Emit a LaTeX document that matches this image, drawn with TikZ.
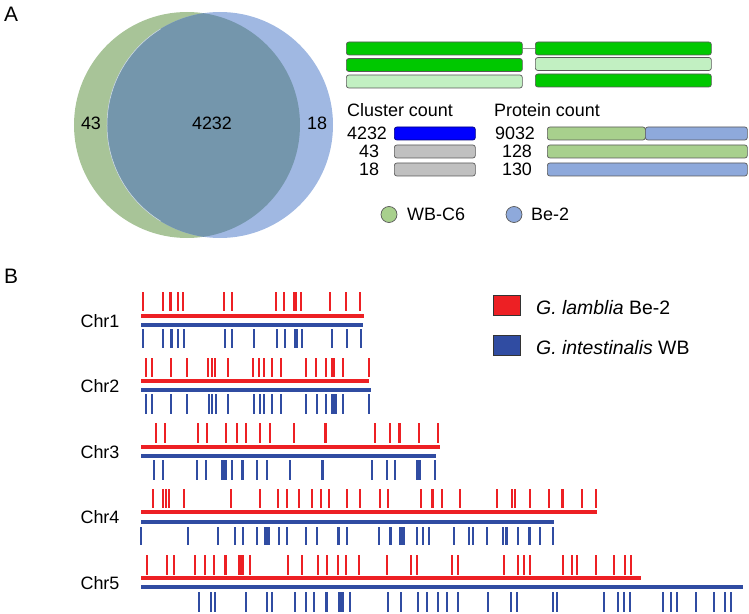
\documentclass[tikz,border=0pt]{standalone}
\usepackage{fontspec}
\setmainfont{Liberation Sans}
\definecolor{venngreen}{RGB}{168,196,152}
\definecolor{vennblue}{RGB}{160,184,226}
\definecolor{vennmid}{RGB}{116,150,172}
\definecolor{darkgreen}{RGB}{0,200,0}
\definecolor{palegreen}{RGB}{194,240,194}
\definecolor{wbgreen}{RGB}{168,208,141}
\definecolor{beblue}{RGB}{142,169,219}
\definecolor{barblue}{RGB}{0,0,255}
\definecolor{bargray}{RGB}{192,192,192}
\definecolor{gred}{RGB}{237,32,36}
\definecolor{gblue}{RGB}{48,76,162}
\begin{document}
\begin{tikzpicture}[x=1bp,y=-1bp,
				every node/.style={inner sep=0pt,font=\fontsize{18}{20}\selectfont},
				bar/.style={rectangle,draw=black!65,line width=0.7bp,rounded corners=2.5bp,minimum height=13bp,anchor=west},
				dot/.style={circle,draw=black!65,line width=0.7bp,minimum size=16bp},
				key/.style={rectangle,draw=black!80,line width=0.8bp,minimum width=27bp,minimum height=20bp},
				keytext/.style={anchor=west,font=\fontsize{19.5}{22}\selectfont},
				redbar/.style={gred,line width=3.5bp},
				bluebar/.style={gblue,line width=3.5bp},
				redtick/.style={gred,line width=1.6bp},
				bluetick/.style={gblue,line width=1.6bp}]
\useasboundingbox (0,0) rectangle (749,614);
\node[font=\fontsize{21}{24}\selectfont] (A) at (11,14) {A};
\node[font=\fontsize{21}{24}\selectfont] (B) at (11,276) {B};
\fill[venngreen] (187,125) circle (113bp);
\fill[vennblue] (220,125) circle (113bp);
\begin{scope}
\clip (187,125) circle (113bp);
\fill[vennmid] (220,125) circle (113bp);
\end{scope}
\draw[white!70!vennmid,line width=0.5bp] (220,125) ++(121.7:113bp) arc (121.7:238.3:113bp);
\node (only wb) at (91,123) {43};
\node (both) at (212,123) {4232};
\node (only be) at (317,123) {18};
\node[bar,fill=darkgreen,minimum width=176bp] (g1a) at (346,48.5) {};
\node[bar,fill=darkgreen,minimum width=176bp] (g1b) at (535,48.5) {};
\node[bar,fill=darkgreen,minimum width=176bp] (g2a) at (346,65) {};
\node[bar,fill=palegreen,minimum width=176bp] (g2b) at (535,64) {};
\node[bar,fill=palegreen,minimum width=176bp] (g3a) at (346,81.5) {};
\node[bar,fill=darkgreen,minimum width=176bp] (g3b) at (535,80.5) {};
\draw[black!40,line width=0.8bp] (g1a.east) -- (g1b.west);
\node[anchor=west] (cluster) at (347,110) {Cluster count};
\node[anchor=west] (protein) at (494,110) {Protein count};
\node (c1) at (367,133.5) {4232};
\node (c2) at (369,151.5) {43};
\node (c3) at (369,169.5) {18};
\node[bar,fill=barblue,draw=blue!50!black,minimum width=81bp] (cb1) at (394,133.5) {};
\node[bar,fill=bargray,minimum width=81bp] (cb2) at (394,151.5) {};
\node[bar,fill=bargray,minimum width=81bp] (cb3) at (394,169.5) {};
\node (p1) at (515,133.5) {9032};
\node (p2) at (517,151.5) {128};
\node (p3) at (517,169.5) {130};
\node[bar,fill=wbgreen,minimum width=98bp] (pb1a) at (547,133.5) {};
\node[bar,fill=beblue,minimum width=102bp] (pb1b) at (645,133.5) {};
\node[bar,fill=wbgreen,minimum width=200bp] (pb2) at (547,151.5) {};
\node[bar,fill=beblue,minimum width=200bp] (pb3) at (547,169.5) {};
\node[dot,fill=wbgreen] (wbdot) at (389,214.5) {};
\node[anchor=west] (wb) at (407,214.5) {WB-C6};
\node[dot,fill=beblue] (bedot) at (514,214.5) {};
\node[anchor=west] (be) at (531,214.5) {Be-2};
\node[key,fill=gred] (redkey) at (506.5,305) {};
\node[keytext] (lamblia) at (536,307.5) {\textit{G. lamblia} Be-2};
\node[key,fill=gblue] (bluekey) at (506.5,345.5) {};
\node[keytext] (intest) at (536,348) {\textit{G. intestinalis} WB};
\node (chr1) at (100,321) {Chr1};
\draw[redbar] (141,316) -- (364,316);
\draw[bluebar] (141,325) -- (363,325);
\foreach \x in {143,163,170,171,178,183,224,232,276,284,294,296,301,330,346,360}
	\draw[redtick] (\x,292) -- (\x,311);
\foreach \x in {143,163,171,172,178,184,225,232,254,277,285,295,297,302,332,347,361}
	\draw[bluetick] (\x,329) -- (\x,348);
\node (chr2) at (100,386) {Chr2};
\draw[redbar] (141,381) -- (369,381);
\draw[bluebar] (141,390) -- (371,390);
\foreach \x in {146,152,171,187,208,212,215,228,253,259,264,272,281,306,316,326,332,334,343,369}
	\draw[redtick] (\x,358) -- (\x,377);
\foreach \x in {146,152,171,187,209,212,216,228,254,260,264,272,281,306,317,326,332,334,336,343,369}
	\draw[bluetick] (\x,394) -- (\x,414);
\node (chr3) at (100,452) {Chr3};
\draw[redbar] (141,447) -- (440,447);
\draw[bluebar] (141,456) -- (436,456);
\foreach \x in {156,165,198,207,226,237,246,260,270,294,325,326,375,390,399,400,419,438}
	\draw[redtick] (\x,423) -- (\x,443);
\foreach \x in {154,163,197,206,222,224,226,232,242,243,257,267,290,322,323,372,387,395,417,418,419,420,435}
	\draw[bluetick] (\x,460) -- (\x,480);
\node (chr4) at (100,517) {Chr4};
\draw[redbar] (141,512) -- (597,512);
\draw[bluebar] (141,522) -- (554,522);
\foreach \x in {153,163,166,169,184,231,260,278,287,299,312,321,329,347,360,380,388,421,432,433,442,460,497,512,515,530,549,562,563,582,596}
	\draw[redtick] (\x,489) -- (\x,508);
\foreach \x in {141,188,218,235,243,257,265,267,269,279,287,306,317,338,339,347,379,390,391,400,402,403,404,417,423,429,454,469,473,487,503,506,507,518,529,530,540,553}
	\draw[bluetick] (\x,527) -- (\x,545);
\node (chr5) at (100,583) {Chr5};
\draw[redbar] (141,578) -- (641,578);
\draw[bluebar] (141,587) -- (743,587);
\foreach \x in {147,167,174,195,205,214,225,226,239,240,241,242,243,250,288,302,318,327,338,346,359,387,411,417,452,458,504,518,524,530,563,572,577,596,614,625,631}
	\draw[redtick] (\x,555) -- (\x,575);
\foreach \x in {199,211,215,246,267,272,295,306,314,326,327,339,340,341,342,343,350,388,401,418,427,438,447,458,488,511,517,553,557,604,618,624,630,663,671,677,696,714,725,731}
	\draw[bluetick] (\x,592) -- (\x,612);
\end{tikzpicture}
\end{document}
